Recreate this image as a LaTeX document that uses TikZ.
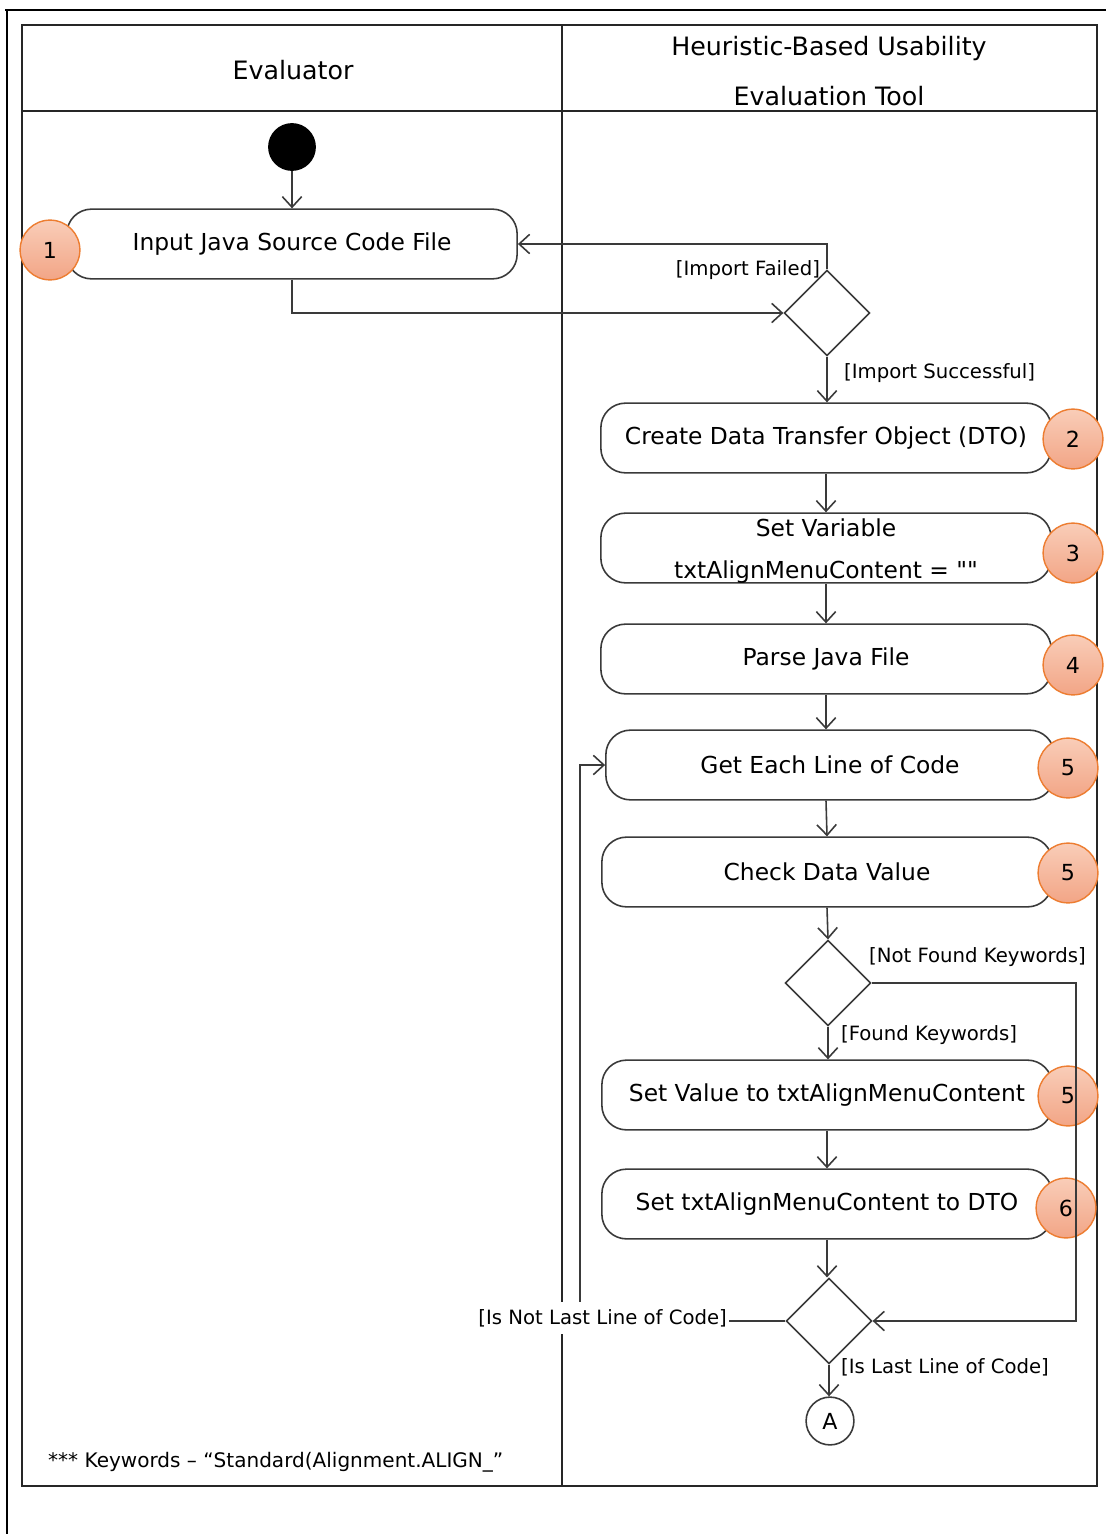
\documentclass[tikz,border=0pt]{standalone}
\usepackage{fontspec}
\setmainfont{DejaVu Sans}
\newfontfamily\rawfont{DejaVu Sans}[Ligatures=TeXOff]
\usetikzlibrary{shapes.geometric,arrows.meta}
\definecolor{badgeline}{HTML}{ED7D31}
\definecolor{badgetop}{HTML}{F9CDB8}
\definecolor{badgebot}{HTML}{F2A586}
\definecolor{inkline}{HTML}{3A3A3A}
\tikzset{
  x=0.02cm, y=-0.02cm,
  frame/.style={line width=1.6pt, black},
  lane/.style={line width=1pt, black!85},
  action/.style={draw=inkline, line width=0.9pt, rounded corners=14pt, minimum width=452*0.567pt,
    minimum height=70*0.567pt, align=center, font=\fontsize{13.3}{16}\selectfont, inner sep=0pt},
  decision/.style={draw=inkline, line width=0.9pt, diamond, minimum width=86*0.567pt, minimum height=86*0.567pt, inner sep=0pt},
  badge/.style={circle, draw=badgeline, line width=0.8pt, top color=badgetop, bottom color=badgebot,
    minimum size=60*0.567pt, inner sep=0pt, font=\fontsize{12.6}{15}\selectfont},
  flow/.style={draw=inkline, line width=0.9pt, -{Straight Barb[length=6pt,width=11pt,line width=0.9pt]}},
  guard/.style={font=\fontsize{11.2}{13}\selectfont, inner sep=1pt},
  header/.style={font=\fontsize{14.4}{17}\selectfont, align=center},
}
\begin{document}
\begin{tikzpicture}
\useasboundingbox (0,0) rectangle (1106,1534);
\fill[white] (0,0) rectangle (1106,1534);
% page edge
\draw[frame] (5,10) -- (1106,10);
\draw[frame] (7,10) -- (7,1534);
% swimlane table
\draw[lane] (22,25) rectangle (1097,1486);
\draw[lane] (22,111) -- (1097,111);
\draw[lane] (562,25) -- (562,1486);
\node[header] (hEval) at (293,70) {Evaluator};
\node[header] (hTool) at (829,71) {Heuristic-Based Usability\\[11pt]Evaluation Tool};

% nodes
\node[circle, fill=black, minimum size=48*0.567pt, inner sep=0pt] (start) at (292,147) {};
\node[action] (input) at (292,244) {Input Java Source Code File};
\node[decision] (d1) at (827,313) {};
\node[action] (dto) at (826,438) {Create Data Transfer Object (DTO)};
\node[action] (setvar) at (826,548) {};
\node[font=\fontsize{13.3}{16}\selectfont] (setvarA) at (826,528) {Set Variable};
\node[font=\fontsize{13.3}{16}\selectfont] (setvarB) at (826,572) {\rawfont txtAlignMenuContent = ""};
\node[action] (parse) at (826,659) {Parse Java File};
\node[action, minimum width=450*0.567pt] (getline) at (830,765) {Get Each Line of Code};
\node[action] (check) at (827,872) {Check Data Value};
\node[decision] (d2) at (828,983) {};
\node[action] (setval) at (827,1095) {Set Value to txtAlignMenuContent};
\node[action] (setdto) at (827,1204) {Set txtAlignMenuContent to DTO};
\node[decision] (d3) at (829,1321) {};
\node[circle, draw=inkline, line width=0.9pt, minimum size=48*0.567pt, inner sep=0pt,
  font=\fontsize{12.6}{15}\selectfont] (connA) at (830,1421) {A};

% step badges
\node[badge] (b1) at (50,250) {1};
\node[badge] (b2) at (1073,439) {2};
\node[badge] (b3) at (1073,553) {3};
\node[badge] (b4) at (1073,665) {4};
\node[badge] (b5a) at (1068,768) {5};
\node[badge] (b5b) at (1068,873) {5};
\node[badge] (b5c) at (1068,1096) {5};
\node[badge] (b6) at (1066,1208) {6};

% connectors
\coordinate (cInDown) at (292,313);
\coordinate (cFailUp) at (827,244);
\coordinate (cNotFoundR) at (1076,983);
\coordinate (cNotFoundB) at (1076,1321);
\coordinate (cLoopB) at (580,1321);
\coordinate (cLoopT) at (580,765);

\draw[flow] (start) -- (input);
\draw[flow] (input.south) -- (cInDown) -- (d1.west);
\draw[flow] (d1.north) -- (cFailUp) -- (input.east);
\draw[flow] (d1.south) -- (dto.north -| d1.south);
\draw[flow] (dto.south) -- (setvar.north);
\draw[flow] (setvar.south) -- (parse.north);
\draw[flow] (parse.south) -- (getline.north -| parse.south);
\draw[flow] (getline.south -| parse.south) -- (check.north);
\draw[flow] (check.south) -- (d2.north);
\draw[flow] (d2.south) -- (setval.north -| d2.south);
\draw[flow] (setval.south) -- (setdto.north);
\draw[flow] (setdto.south) -- (d3.north -| setdto.south);
\draw[flow] (d2.east) -- (cNotFoundR) -- (cNotFoundB) -- (d3.east);
\draw[flow] (d3.south) -- (connA.north -| d3.south);
\draw[flow] (d3.west) -- (cLoopB) -- (cLoopT) -- (getline.west);

% guard labels
\node[guard, anchor=south east] (gFail) at (822,282) {[Import Failed]};
\node[guard, anchor=west] (gOk) at (842,373) {[Import Successful]};
\node[guard, anchor=west] (gNot) at (867,957) {[Not Found Keywords]};
\node[guard, anchor=west] (gFound) at (839,1035) {[Found Keywords]};
\node[guard, anchor=east, fill=white, inner ysep=4pt] (gNotLast) at (729,1318) {[Is Not Last Line of Code]};
\node[guard, anchor=west] (gLast) at (839,1367) {[Is Last Line of Code]};

% note
\node[anchor=west, font=\fontsize{11.4}{13}\selectfont] (note) at (42,1462) {*** Keywords – “Standard(Alignment.ALIGN\_”};
\end{tikzpicture}
\end{document}
